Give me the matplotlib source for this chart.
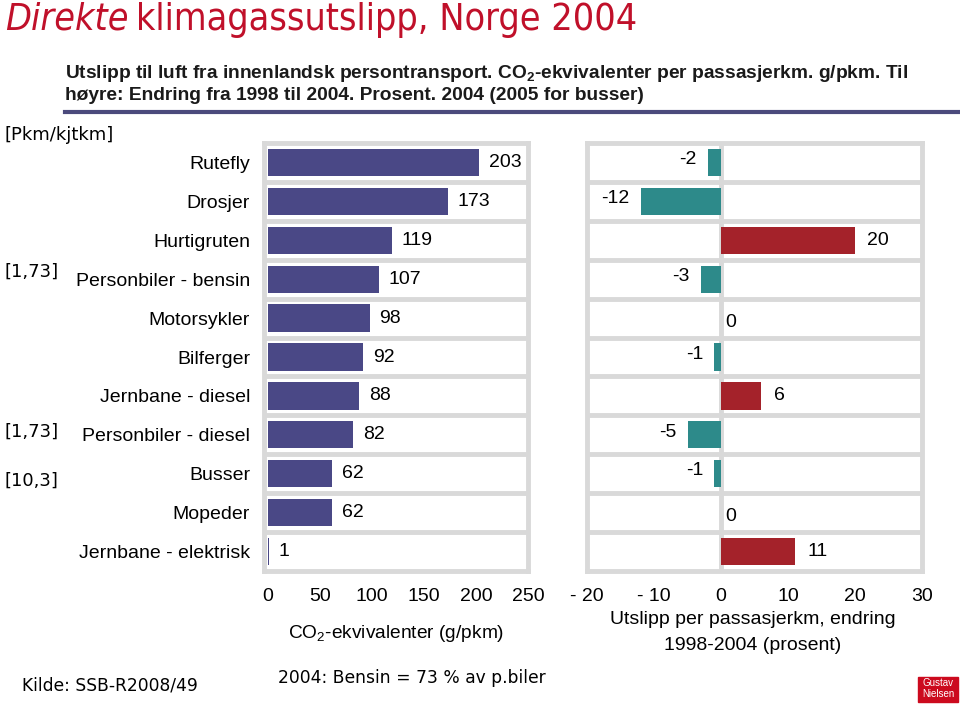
import matplotlib
matplotlib.use("Agg")
import matplotlib.pyplot as plt
import numpy as np

plt.rcParams['font.family'] = ['Liberation Sans', 'DejaVu Sans']
plt.rcParams['mathtext.fontset'] = 'custom'
plt.rcParams['mathtext.rm'] = 'Liberation Sans'
plt.rcParams['mathtext.it'] = 'Liberation Sans:italic'
plt.rcParams['mathtext.bf'] = 'Liberation Sans:bold'

categories = ["Rutefly", "Drosjer", "Hurtigruten", "Personbiler - bensin", "Motorsykler",
              "Bilferger", "Jernbane - diesel", "Personbiler - diesel", "Busser",
              "Mopeder", "Jernbane - elektrisk"]
emissions = [203, 173, 119, 107, 98, 92, 88, 82, 62, 62, 1]
change_pct = [-2, -12, 20, -3, 0, -1, 6, -5, -1, 0, 11]
left_ticks = [0, 50, 100, 150, 200, 250]
right_ticks = [-20, -10, 0, 10, 20, 30]
right_tick_labels = ["- 20", "- 10", "0", "10", "20", "30"]

W, H = 960, 707
fig = plt.figure(figsize=(W / 100, H / 100), dpi=100)

def fx(px):
    return px / W

def fy(py):
    return 1 - py / H

GRID = '#d9d9d9'
NAVY = '#4a4886'
TEAL = '#2d8a8a'
RED = '#a4222a'
TITLE_RED = '#c0102a'

top, bottom = 143, 571
ax1 = fig.add_axes([fx(264), fy(bottom), fx(528 - 264), (bottom - top) / H])
ax2 = fig.add_axes([fx(587), fy(bottom), fx(922 - 587), (bottom - top) / H])

y = np.arange(len(categories))

for ax in (ax1, ax2):
    ax.set_ylim(len(categories) - 0.5, -0.5)
    for b in np.arange(0.5, len(categories) - 0.5):
        ax.axhline(b, color=GRID, lw=3.5, zorder=1)
    for s in ax.spines.values():
        s.set_color(GRID)
        s.set_linewidth(3.5)
    ax.tick_params(axis='both', length=0, labelsize=14, pad=12)

# Left panel
ax1.set_xlim(-3.5, 250)
ax1.barh(y, emissions, height=0.7, color=NAVY, zorder=2)
ax1.set_xticks(left_ticks)
ax1.set_yticks(y)
ax1.set_yticklabels(categories, fontsize=14)
ax1.tick_params(axis='y', pad=10)
for yi, v in zip(y, emissions):
    ax1.annotate(str(v), (v, yi), xytext=(7, 0), textcoords='offset points',
                 ha='left', va='center', fontsize=14)

# Right panel
ax2.set_xlim(-20, 30)
ax2.axvline(0, color=GRID, lw=3.5, zorder=1)
colors = [TEAL if v < 0 else RED for v in change_pct]
ax2.barh(y, change_pct, height=0.7, color=colors, zorder=2)
ax2.set_xticks(right_ticks)
ax2.set_xticklabels(right_tick_labels)
ax2.set_yticks([])
for yi, v in zip(y, change_pct):
    if v < 0:
        ax2.annotate(str(v), (v, yi), xytext=(-8, 2), textcoords='offset points',
                     ha='right', va='center', fontsize=14)
    elif v == 0:
        ax2.annotate(str(v), (v, yi), xytext=(3, -3), textcoords='offset points',
                     ha='left', va='center', fontsize=14)
    else:
        ax2.annotate(str(v), (v, yi), xytext=(9, 0), textcoords='offset points',
                     ha='left', va='center', fontsize=14)

# Axis labels
fig.text(fx(396), fy(633), r"CO$_2$-ekvivalenter (g/pkm)", ha='center', va='center', fontsize=13.8)
fig.text(fx(753), fy(620), "Utslipp per passasjerkm, endring", ha='center', va='center', fontsize=14)
fig.text(fx(753), fy(646), "1998-2004 (prosent)", ha='center', va='center', fontsize=14)

# Title
renderer = fig.canvas.get_renderer()
t1 = fig.text(fx(5), fy(20), "Direkte", ha='left', va='center', fontsize=27,
              color=TITLE_RED, style='italic', family=['DejaVu Sans'], fontstretch='condensed')
bb = t1.get_window_extent(renderer)
fig.text((bb.x1 + 8) / W, fy(20), "klimagassutslipp, Norge 2004", ha='left', va='center',
         fontsize=27, color=TITLE_RED, family=['DejaVu Sans'], fontstretch='condensed')

# Subtitle
fig.text(fx(65), fy(74), r"Utslipp til luft fra innenlandsk persontransport. CO$_\mathbf{2}$-ekvivalenter per passasjerkm. g/pkm. Til",
         ha='left', va='center', fontsize=13.8, fontweight='bold', color='#1a1a1a')
fig.text(fx(65), fy(96), "høyre: Endring fra 1998 til 2004. Prosent. 2004 (2005 for busser)",
         ha='left', va='center', fontsize=13.8, fontweight='bold', color='#1a1a1a')
fig.add_artist(plt.Line2D([fx(65), fx(958)], [fy(112), fy(112)], color='#4b4a7c', lw=3))

# Side notes
side_font = dict(fontsize=13, family=['DejaVu Sans'], ha='left', va='center')
fig.text(fx(5), fy(135), "[Pkm/kjtkm]", **side_font)
fig.text(fx(5), fy(272), "[1,73]", **side_font)
fig.text(fx(5), fy(432), "[1,73]", **side_font)
fig.text(fx(5), fy(481), "[10,3]", **side_font)

fig.text(fx(22), fy(686), "Kilde: SSB-R2008/49", fontsize=12.3, family=['DejaVu Sans'], ha='left', va='center')
fig.text(fx(278), fy(678), "2004: Bensin = 73 % av p.biler", fontsize=12.3, family=['DejaVu Sans'], ha='left', va='center')

# Logo
fig.add_artist(plt.Rectangle((fx(918), fy(702)), fx(40), 25 / H, color='#cc0a1e', transform=fig.transFigure))
fig.text(fx(938), fy(683), "Gustav", color='white', fontsize=7, ha='center', va='center')
fig.text(fx(938), fy(694), "Nielsen", color='white', fontsize=7, ha='center', va='center')

fig.savefig("out.png", dpi=100)
